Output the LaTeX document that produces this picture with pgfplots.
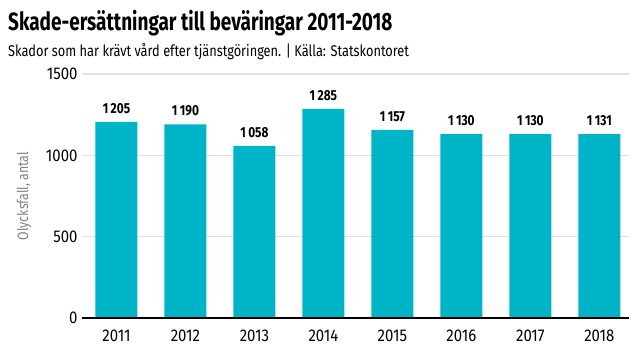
\documentclass[border=0pt]{standalone}
\usepackage{pgfplots}
\pgfplotsset{compat=1.18}
\usetikzlibrary{calc}
\usepackage{fontspec}
\setmainfont{Fira Sans}[FakeStretch=0.82]
\newfontfamily\titlefont{Fira Sans}[FakeStretch=0.76,UprightFont=* Bold]
\newfontfamily\tickfont{Fira Sans}[FakeStretch=0.88]
\definecolor{barc}{RGB}{0,180,200}
\definecolor{gridc}{RGB}{224,224,224}
\definecolor{labc}{RGB}{130,130,130}
\begin{document}
\begin{tikzpicture}[x=1pt,y=1pt]
\begin{axis}[
  width=547pt, height=244pt, scale only axis,
  xmin=-0.5, xmax=7.43, ymin=0, ymax=1500,
  xtick={0,...,7}, xticklabels={2011,2012,2013,2014,2015,2016,2017,2018},
  ytick={0,500,1000,1500},
  axis line style={draw=none},
  major tick length=0pt,
  ymajorgrids, grid style={gridc, line width=1.5pt},
  tick label style={font=\tickfont\fontsize{17}{20}\selectfont, /pgf/number format/assume math mode=true},
  yticklabel style={/pgf/number format/1000 sep={}, xshift=-1pt},
  xticklabel style={yshift=-8pt},
  ylabel={Olycksfall, antal},
  ylabel style={font=\fontsize{15}{18}\selectfont, text=labc, at={(axis description cs:0,0.5)}, anchor=center, yshift=58pt},
  clip=false,
]
\addplot[ybar, bar width=42pt, fill=barc, draw=none,
  nodes near coords,
  nodes near coords style={font=\bfseries\fontsize{14.5}{16}\selectfont, anchor=south, yshift=5pt, /pgf/number format/assume math mode=true, /pgf/number format/1000 sep={\,}}]
  coordinates {(0,1205) (1,1190) (2,1058) (3,1285) (4,1157) (5,1130) (6,1130) (7,1131)};
\draw[black, line width=2pt] (axis cs:-0.5,0) -- (axis cs:7.43,0);
\coordinate (O) at (rel axis cs:0,0);
\end{axis}
\node[anchor=base west,inner sep=0,font=\titlefont\fontsize{25}{28}\selectfont] at ($(O)+(-74,288)$) {Skade-ersättningar till beväringar 2011-2018};
\node[anchor=base west,inner sep=0,font=\fontsize{15.6}{19}\selectfont] at ($(O)+(-74,262)$) {Skador som har krävt vård efter tjänstgöringen. | Källa: Statskontoret};
\pgfresetboundingbox
\path ($(O)+(-82,-42)$) rectangle ++(640,360);
\end{tikzpicture}
\end{document}
